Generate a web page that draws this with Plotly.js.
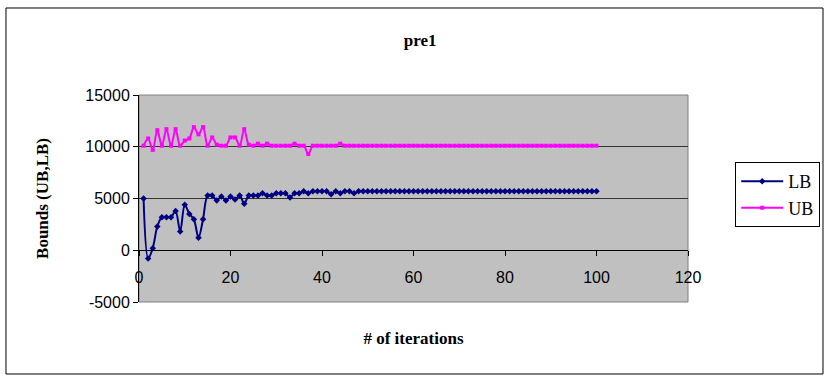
<!DOCTYPE html>
<html>
<head>
<meta charset="utf-8">
<script src="https://cdn.plot.ly/plotly-3.0.1.min.js"></script>
<style>
  html, body { margin: 0; padding: 0; background: #fff; }
  #chart { width: 824px; height: 375px; }
</style>
</head>
<body>
<div id="chart"></div>
<script>
// Lower and upper bounds per iteration
const lbValues = [
  5000, -800, 200, 2300, 3200, 3200, 3200, 3800, 1800, 4400,
  3500, 3000, 1200, 3000, 5300, 5300, 4800, 5200, 4800, 5200,
  4900, 5300, 4500, 5300, 5300, 5300, 5500, 5300, 5300, 5500,
  5500, 5500, 5100, 5500, 5500, 5700, 5500, 5700, 5700, 5700,
  5700, 5400, 5700, 5500, 5700, 5700, 5500, 5700, 5700, 5700,
  5700, 5700, 5700, 5700, 5700, 5700, 5700, 5700, 5700, 5700,
  5700, 5700, 5700, 5700, 5700, 5700, 5700, 5700, 5700, 5700,
  5700, 5700, 5700, 5700, 5700, 5700, 5700, 5700, 5700, 5700,
  5700, 5700, 5700, 5700, 5700, 5700, 5700, 5700, 5700, 5700,
  5700, 5700, 5700, 5700, 5700, 5700, 5700, 5700, 5700, 5700
];
const ubValues = [
  10100, 10800, 9700, 11600, 10100, 11700, 10100, 11700, 10100, 10600,
  10800, 11900, 11200, 11900, 10100, 10900, 10200, 10100, 10100, 10900,
  10900, 10100, 11700, 10200, 10100, 10300, 10100, 10300, 10100, 10100,
  10100, 10100, 10100, 10300, 10100, 10100, 9300, 10100, 10100, 10100,
  10100, 10100, 10100, 10300, 10100, 10100, 10100, 10100, 10100, 10100,
  10100, 10100, 10100, 10100, 10100, 10100, 10100, 10100, 10100, 10100,
  10100, 10100, 10100, 10100, 10100, 10100, 10100, 10100, 10100, 10100,
  10100, 10100, 10100, 10100, 10100, 10100, 10100, 10100, 10100, 10100,
  10100, 10100, 10100, 10100, 10100, 10100, 10100, 10100, 10100, 10100,
  10100, 10100, 10100, 10100, 10100, 10100, 10100, 10100, 10100, 10100
];
const iterations = lbValues.map((_, i) => i + 1);

const xTicks = [0, 20, 40, 60, 80, 100, 120];
const yTicks = [-5000, 0, 5000, 10000, 15000];

const serif = "Liberation Serif, Times New Roman, serif";
const sans = "Liberation Sans, Arial, sans-serif";

const traces = [
  {
    x: iterations, y: lbValues, name: "LB", type: "scatter", mode: "lines+markers",
    line: { color: "#000080", width: 2, shape: "spline", smoothing: 0.9 },
    marker: { symbol: "diamond", size: 5, color: "#000080" },
    legendgroup: "a"
  },
  {
    x: iterations, y: ubValues, name: "UB", type: "scatter", mode: "lines+markers",
    line: { color: "#FF00FF", width: 2, shape: "spline", smoothing: 0.9 },
    marker: { symbol: "square", size: 4, color: "#FF00FF" },
    legendgroup: "b"
  }
];

const layout = {
  width: 824, height: 375,
  margin: { l: 139, r: 136, t: 95, b: 73, autoexpand: false },
  paper_bgcolor: "#ffffff",
  plot_bgcolor: "#C0C0C0",
  title: {
    text: "<b>pre1</b>",
    font: { family: serif, size: 17, color: "#000" },
    x: 0.51, xanchor: "center", y: 0.893, yanchor: "middle"
  },
  xaxis: {
    range: [0, 120], tickvals: xTicks, ticktext: xTicks.map(String),
    anchor: "free", position: 0.25,
    showline: true, linecolor: "#000", linewidth: 1,
    ticks: "outside", ticklen: 5, tickcolor: "#000", ticklabelstandoff: 8,
    showgrid: false, zeroline: false,
    tickfont: { family: sans, size: 16, color: "#000" },
    title: { text: "<b># of iterations</b>", font: { family: serif, size: 17, color: "#000" }, standoff: 46 }
  },
  yaxis: {
    range: [-5000, 15000], tickvals: yTicks, ticktext: yTicks.map(String),
    showline: true, linecolor: "#000", linewidth: 1,
    ticks: "outside", ticklen: 5, tickcolor: "#000",
    showgrid: true, gridcolor: "#333", gridwidth: 1, zeroline: false,
    tickfont: { family: sans, size: 16, color: "#000" },
    title: { text: "<b>Bounds (UB,LB)</b>", font: { family: serif, size: 17, color: "#000" }, standoff: 32 }
  },
  showlegend: true,
  legend: {
    x: 1.086, xanchor: "left", y: 0.676, yanchor: "top",
    bgcolor: "#fff", bordercolor: "#000", borderwidth: 1,
    font: { family: serif, size: 18, color: "#000" },
    itemwidth: 42,
    tracegroupgap: 8, traceorder: "normal"
  },
  shapes: [
    // plot area frame
    { type: "rect", xref: "paper", yref: "paper", x0: 0, x1: 1, y0: 0, y1: 1,
      line: { color: "#808080", width: 1 }, layer: "below" },
    // chart frame
    { type: "rect", xref: "paper", yref: "paper",
      x0: -0.2423, x1: 1.2459, y0: -0.3478, y1: 1.4203,
      line: { color: "#000", width: 1 } }
  ]
};

Plotly.newPlot("chart", traces, layout, { displayModeBar: false, staticPlot: true });
</script>
</body>
</html>
